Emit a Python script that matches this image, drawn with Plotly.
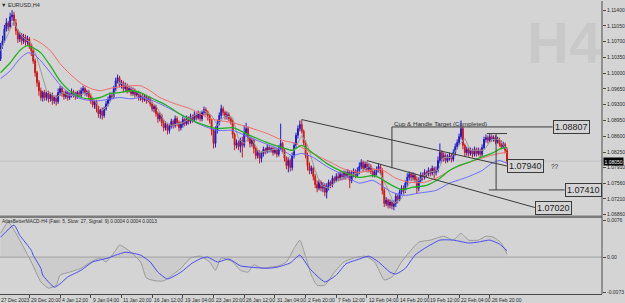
import plotly.graph_objects as go

# ---------------- price data (EURUSD H4) ----------------
first_open = 1.1032
closes = [1.1061, 1.1072, 1.1098, 1.1111, 1.1103, 1.1125, 1.1129, 1.1111, 1.1094, 1.1076,
          1.1085, 1.1072, 1.1080, 1.1069, 1.1076, 1.1061, 1.1050, 1.1027, 1.1001, 1.0979,
          1.0961, 1.0946, 1.0957, 1.0946, 1.0955, 1.0943, 1.0952, 1.0939, 1.0946, 1.0937,
          1.0957, 1.0966, 1.0955, 1.0948, 1.0957, 1.0946, 1.0950, 1.0959, 1.0952, 1.0948,
          1.0957, 1.0950, 1.0961, 1.0966, 1.0955, 1.0959, 1.0948, 1.0939, 1.0930, 1.0937,
          1.0921, 1.0910, 1.0917, 1.0906, 1.0921, 1.0932, 1.0941, 1.0950, 1.0948, 1.0966,
          1.0983, 1.0990, 1.0974, 1.0979, 1.0966, 1.0972, 1.0961, 1.0966, 1.0955, 1.0961,
          1.0952, 1.0957, 1.0946, 1.0950, 1.0941, 1.0948, 1.0939, 1.0943, 1.0932, 1.0921,
          1.0926, 1.0910, 1.0899, 1.0906, 1.0890, 1.0879, 1.0886, 1.0873, 1.0882, 1.0893,
          1.0884, 1.0899, 1.0890, 1.0879, 1.0886, 1.0897, 1.0888, 1.0899, 1.0893, 1.0904,
          1.0897, 1.0908, 1.0901, 1.0910, 1.0899, 1.0913, 1.0919, 1.0913, 1.0906, 1.0895,
          1.0873, 1.0844, 1.0873, 1.0890, 1.0906, 1.0921, 1.0913, 1.0904, 1.0908, 1.0899,
          1.0893, 1.0864, 1.0840, 1.0846, 1.0837, 1.0851, 1.0840, 1.0866, 1.0877, 1.0855,
          1.0844, 1.0851, 1.0833, 1.0817, 1.0824, 1.0811, 1.0822, 1.0831, 1.0826, 1.0835,
          1.0829, 1.0833, 1.0824, 1.0829, 1.0820, 1.0833, 1.0844, 1.0829, 1.0811, 1.0795,
          1.0806, 1.0791, 1.0817, 1.0840, 1.0862, 1.0877, 1.0886, 1.0871, 1.0846, 1.0817,
          1.0795, 1.0784, 1.0789, 1.0771, 1.0753, 1.0745, 1.0758, 1.0745, 1.0751, 1.0736,
          1.0749, 1.0758, 1.0753, 1.0767, 1.0762, 1.0771, 1.0767, 1.0776, 1.0769, 1.0778,
          1.0771, 1.0780, 1.0762, 1.0776, 1.0782, 1.0773, 1.0784, 1.0793, 1.0802, 1.0789,
          1.0798, 1.0787, 1.0793, 1.0782, 1.0773, 1.0780, 1.0787, 1.0793, 1.0782, 1.0740,
          1.0711, 1.0718, 1.0707, 1.0714, 1.0705, 1.0711, 1.0727, 1.0720, 1.0736, 1.0745,
          1.0740, 1.0756, 1.0769, 1.0776, 1.0769, 1.0773, 1.0764, 1.0745, 1.0762, 1.0773,
          1.0769, 1.0780, 1.0776, 1.0784, 1.0778, 1.0789, 1.0780, 1.0784, 1.0806, 1.0824,
          1.0811, 1.0817, 1.0806, 1.0813, 1.0817, 1.0809, 1.0824, 1.0837, 1.0846, 1.0859,
          1.0877, 1.0840, 1.0824, 1.0831, 1.0822, 1.0829, 1.0820, 1.0831, 1.0822, 1.0829,
          1.0820, 1.0835, 1.0853, 1.0857, 1.0851, 1.0859, 1.0853, 1.0857, 1.0848, 1.0853,
          1.0844, 1.0837, 1.0842, 1.0829, 1.0805]
highs = [1.1067, 1.1083, 1.1107, 1.1122, 1.1116, 1.1134, 1.1140, 1.1136, 1.1120, 1.1098,
         1.1092, 1.1089, 1.1087, 1.1085, 1.1083, 1.1080, 1.1067, 1.1054, 1.1032, 1.1005,
         1.0985, 1.0968, 1.0961, 1.0963, 1.0959, 1.0961, 1.0957, 1.0957, 1.0950, 1.0952,
         1.0966, 1.0972, 1.0970, 1.0961, 1.0961, 1.0961, 1.0957, 1.0966, 1.0963, 1.0959,
         1.0961, 1.0963, 1.0968, 1.0972, 1.0970, 1.0963, 1.0963, 1.0955, 1.0943, 1.0941,
         1.0941, 1.0928, 1.0921, 1.0924, 1.0926, 1.0939, 1.0948, 1.0957, 1.0957, 1.0972,
         1.0990, 1.0997, 1.0994, 1.0985, 1.0983, 1.0979, 1.0977, 1.0972, 1.0970, 1.0968,
         1.0966, 1.0961, 1.0961, 1.0955, 1.0955, 1.0952, 1.0952, 1.0948, 1.0948, 1.0937,
         1.0930, 1.0930, 1.0915, 1.0913, 1.0910, 1.0897, 1.0893, 1.0890, 1.0888, 1.0899,
         1.0897, 1.0906, 1.0904, 1.0895, 1.0893, 1.0904, 1.0901, 1.0906, 1.0904, 1.0910,
         1.0908, 1.0915, 1.0913, 1.0917, 1.0915, 1.0917, 1.0926, 1.0924, 1.0917, 1.0910,
         1.0899, 1.0877, 1.0882, 1.0897, 1.0913, 1.0930, 1.0926, 1.0917, 1.0915, 1.0913,
         1.0904, 1.0897, 1.0868, 1.0853, 1.0851, 1.0857, 1.0859, 1.0884, 1.0890, 1.0882,
         1.0859, 1.0857, 1.0855, 1.0837, 1.0829, 1.0829, 1.0826, 1.0837, 1.0835, 1.0842,
         1.0840, 1.0837, 1.0837, 1.0835, 1.0833, 1.0840, 1.0888, 1.0848, 1.0833, 1.0815,
         1.0813, 1.0811, 1.0824, 1.0846, 1.0868, 1.0884, 1.0895, 1.0897, 1.0875, 1.0851,
         1.0824, 1.0802, 1.0795, 1.0793, 1.0776, 1.0762, 1.0764, 1.0762, 1.0758, 1.0756,
         1.0756, 1.0764, 1.0762, 1.0773, 1.0771, 1.0778, 1.0780, 1.0782, 1.0782, 1.0784,
         1.0784, 1.0787, 1.0784, 1.0784, 1.0789, 1.0787, 1.0791, 1.0802, 1.0809, 1.0806,
         1.0804, 1.0804, 1.0800, 1.0798, 1.0789, 1.0787, 1.0793, 1.0800, 1.0798, 1.0789,
         1.0745, 1.0725, 1.0722, 1.0720, 1.0718, 1.0718, 1.0734, 1.0731, 1.0742, 1.0751,
         1.0751, 1.0762, 1.0778, 1.0782, 1.0780, 1.0780, 1.0778, 1.0771, 1.0769, 1.0780,
         1.0780, 1.0787, 1.0784, 1.0791, 1.0789, 1.0795, 1.0793, 1.0793, 1.0815, 1.0844,
         1.0829, 1.0824, 1.0822, 1.0820, 1.0824, 1.0822, 1.0831, 1.0844, 1.0853, 1.0866,
         1.0895, 1.0882, 1.0844, 1.0837, 1.0835, 1.0835, 1.0833, 1.0837, 1.0835, 1.0835,
         1.0833, 1.0842, 1.0859, 1.0864, 1.0862, 1.0866, 1.0864, 1.0862, 1.0862, 1.0859,
         1.0857, 1.0851, 1.0848, 1.0846, 1.0835]
lows = [1.1027, 1.1054, 1.1067, 1.1092, 1.1094, 1.1098, 1.1116, 1.1105, 1.1085, 1.1067,
        1.1069, 1.1063, 1.1065, 1.1061, 1.1063, 1.1054, 1.1038, 1.1021, 1.0992, 1.0970,
        1.0950, 1.0939, 1.0937, 1.0939, 1.0939, 1.0935, 1.0937, 1.0930, 1.0932, 1.0928,
        1.0932, 1.0950, 1.0948, 1.0941, 1.0943, 1.0939, 1.0941, 1.0946, 1.0946, 1.0941,
        1.0943, 1.0946, 1.0946, 1.0955, 1.0950, 1.0948, 1.0941, 1.0932, 1.0924, 1.0921,
        1.0913, 1.0901, 1.0899, 1.0897, 1.0901, 1.0917, 1.0926, 1.0937, 1.0941, 1.0943,
        1.0961, 1.0977, 1.0968, 1.0966, 1.0957, 1.0961, 1.0955, 1.0957, 1.0950, 1.0950,
        1.0946, 1.0948, 1.0939, 1.0939, 1.0935, 1.0937, 1.0932, 1.0935, 1.0926, 1.0915,
        1.0913, 1.0904, 1.0890, 1.0893, 1.0882, 1.0871, 1.0873, 1.0864, 1.0866, 1.0877,
        1.0877, 1.0879, 1.0882, 1.0871, 1.0873, 1.0879, 1.0882, 1.0884, 1.0886, 1.0888,
        1.0890, 1.0893, 1.0895, 1.0897, 1.0893, 1.0893, 1.0906, 1.0906, 1.0895, 1.0888,
        1.0862, 1.0833, 1.0835, 1.0866, 1.0884, 1.0899, 1.0906, 1.0897, 1.0897, 1.0893,
        1.0886, 1.0855, 1.0829, 1.0833, 1.0829, 1.0824, 1.0813, 1.0835, 1.0859, 1.0848,
        1.0835, 1.0837, 1.0822, 1.0809, 1.0811, 1.0800, 1.0802, 1.0815, 1.0820, 1.0822,
        1.0824, 1.0824, 1.0817, 1.0820, 1.0813, 1.0815, 1.0829, 1.0822, 1.0804, 1.0787,
        1.0780, 1.0782, 1.0784, 1.0811, 1.0833, 1.0855, 1.0871, 1.0866, 1.0840, 1.0811,
        1.0784, 1.0776, 1.0776, 1.0762, 1.0745, 1.0736, 1.0740, 1.0738, 1.0736, 1.0727,
        1.0722, 1.0740, 1.0745, 1.0747, 1.0756, 1.0758, 1.0760, 1.0762, 1.0762, 1.0764,
        1.0764, 1.0767, 1.0745, 1.0756, 1.0769, 1.0767, 1.0769, 1.0776, 1.0787, 1.0782,
        1.0784, 1.0780, 1.0780, 1.0776, 1.0769, 1.0769, 1.0773, 1.0780, 1.0776, 1.0731,
        1.0703, 1.0705, 1.0700, 1.0700, 1.0698, 1.0696, 1.0703, 1.0711, 1.0716, 1.0729,
        1.0731, 1.0734, 1.0749, 1.0762, 1.0760, 1.0762, 1.0758, 1.0734, 1.0738, 1.0756,
        1.0762, 1.0764, 1.0769, 1.0771, 1.0771, 1.0773, 1.0767, 1.0773, 1.0780, 1.0800,
        1.0802, 1.0804, 1.0800, 1.0802, 1.0806, 1.0802, 1.0804, 1.0817, 1.0831, 1.0840,
        1.0853, 1.0831, 1.0815, 1.0817, 1.0815, 1.0817, 1.0813, 1.0815, 1.0815, 1.0817,
        1.0813, 1.0815, 1.0831, 1.0846, 1.0844, 1.0846, 1.0848, 1.0848, 1.0842, 1.0844,
        1.0837, 1.0831, 1.0833, 1.0822, 1.0798]
bars = list(range(len(closes)))
opens = [first_open] + closes[:-1]

# ---------------- moving averages (read at sparse bars) ----------------
green_bars = [0, 5, 10, 14, 17, 21, 26, 31, 36, 42, 47, 52, 57, 62, 68, 73, 78, 86, 94, 99,
              104, 113, 121, 130, 139, 147, 152, 157, 163, 170, 177, 187, 194, 197, 204, 209,
              215, 222, 229, 234, 239, 244, 249, 256, 261, 264]
green_vals = [1.1001, 1.1023, 1.1050, 1.1061, 1.1056, 1.1045, 1.1016, 1.0983, 1.0961, 1.0946,
              1.0943, 1.0946, 1.0955, 1.0957, 1.0961, 1.0957, 1.0946, 1.0930, 1.0908, 1.0897,
              1.0888, 1.0877, 1.0879, 1.0862, 1.0846, 1.0835, 1.0829, 1.0840, 1.0822, 1.0800,
              1.0784, 1.0769, 1.0773, 1.0769, 1.0751, 1.0742, 1.0747, 1.0751, 1.0767, 1.0784,
              1.0795, 1.0802, 1.0811, 1.0822, 1.0833, 1.0835]
blue_bars = [0, 5, 10, 14, 17, 21, 26, 31, 36, 42, 47, 52, 57, 62, 68, 73, 78, 86, 94, 104,
             113, 121, 130, 139, 147, 152, 157, 163, 170, 177, 187, 194, 204, 211, 218, 227,
             234, 243, 251, 256, 260, 264]
blue_vals = [1.0988, 1.1005, 1.1032, 1.1045, 1.1043, 1.1027, 1.1001, 1.0974, 1.0955, 1.0943,
             1.0939, 1.0939, 1.0943, 1.0946, 1.0943, 1.0946, 1.0941, 1.0926, 1.0908, 1.0886,
             1.0873, 1.0873, 1.0857, 1.0842, 1.0829, 1.0817, 1.0822, 1.0813, 1.0793, 1.0778,
             1.0756, 1.0762, 1.0736, 1.0729, 1.0734, 1.0740, 1.0756, 1.0769, 1.0784, 1.0800,
             1.0806, 1.0800]
red_bars = [17, 21, 26, 31, 36, 42, 47, 52, 57, 62, 68, 73, 78, 83, 91, 99, 104, 109, 121, 130,
            139, 147, 154, 157, 165, 173, 178, 187, 198, 206, 213, 221, 229, 236, 244, 252, 260, 264]
red_vals = [1.1076, 1.1067, 1.1050, 1.1021, 1.0999, 1.0977, 1.0966, 1.0961, 1.0966, 1.0970,
            1.0972, 1.0972, 1.0961, 1.0946, 1.0932, 1.0921, 1.0910, 1.0899, 1.0890, 1.0879,
            1.0866, 1.0851, 1.0844, 1.0835, 1.0817, 1.0800, 1.0789, 1.0780, 1.0787, 1.0767,
            1.0758, 1.0758, 1.0771, 1.0789, 1.0802, 1.0813, 1.0822, 1.0824]
gray_bars = [0, 4, 7, 9, 12, 16, 19, 22, 24, 29, 32, 36, 42, 46, 49, 53, 56, 59, 62, 65,
             70, 75, 81, 86, 89, 95, 101, 106, 110, 113, 117, 121, 124, 127, 130, 135, 140, 145, 150, 153,
             157, 160, 164, 167, 171, 177, 182, 187, 192, 197, 201, 205, 209, 213, 218, 223, 228, 231, 235, 239,
             242, 245, 252, 256, 260, 263, 264]
gray_vals = [1.1050, 1.1087, 1.1116, 1.1094, 1.1078, 1.1067, 1.1034, 1.0990, 1.0961, 1.0946,
             1.0957, 1.0950, 1.0952, 1.0959, 1.0939, 1.0917, 1.0928, 1.0950, 1.0979, 1.0974,
             1.0961, 1.0946, 1.0928, 1.0890, 1.0884, 1.0890, 1.0906, 1.0917, 1.0906, 1.0884,
             1.0906, 1.0901, 1.0855, 1.0844, 1.0862, 1.0824, 1.0829, 1.0833, 1.0811, 1.0829,
             1.0862, 1.0840, 1.0784, 1.0751, 1.0745, 1.0767, 1.0773, 1.0780, 1.0793, 1.0784,
             1.0751, 1.0711, 1.0722, 1.0756, 1.0762, 1.0780, 1.0784, 1.0813, 1.0813, 1.0840,
             1.0855, 1.0829, 1.0829, 1.0853, 1.0853, 1.0837, 1.0829]

# ---------------- MACD (read at sparse bars) ----------------
macd_sig_bars = [0, 7, 10, 16, 17, 21, 22, 28, 31, 35, 42, 48, 56, 60, 65, 69, 73, 78, 82, 87,
                 94, 100, 105, 108, 113, 119, 125, 131, 139, 144, 151, 156, 161, 169, 175, 180, 187, 192, 197, 203,
                 206, 211, 216, 221, 229, 236, 244, 249, 255, 260, 264]
macd_sig_vals = [0.0041, 0.0066, 0.0045, 0.0014, 0.0004, -0.0023, -0.0037, -0.0062, -0.0055, -0.0041,
                 -0.0027, -0.0010, -0.0002, 0.0004, 0.0010, 0.0008, 0.0004, -0.0010, -0.0031, -0.0045,
                 -0.0031, -0.0012, -0.0002, 0.0000, -0.0010, -0.0004, -0.0018, -0.0021, -0.0023, -0.0021,
                 -0.0012, 0.0004, -0.0023, -0.0051, -0.0037, -0.0014, -0.0004, 0.0002, -0.0010, -0.0031,
                 -0.0035, -0.0023, 0.0004, 0.0018, 0.0035, 0.0035, 0.0029, 0.0031, 0.0035, 0.0027, 0.0013]
macd_main_bars = [0, 4, 10, 16, 21, 25, 29, 31, 36, 42, 47, 52, 55, 60, 62, 68, 73, 76, 81, 85,
                  88, 94, 99, 104, 109, 112, 115, 121, 125, 129, 132, 136, 140, 145, 149, 153, 156, 158, 162, 165,
                  169, 174, 179, 184, 190, 195, 200, 204, 209, 213, 218, 224, 231, 236, 240, 244, 249, 253, 257, 261, 264]
macd_main_vals = [0.0049, 0.0072, 0.0035, -0.0010, -0.0051, -0.0064, -0.0058, -0.0037, -0.0031, -0.0023,
                  -0.0010, -0.0002, -0.0010, 0.0014, 0.0025, 0.0010, -0.0010, -0.0043, -0.0049, -0.0049,
                  -0.0041, -0.0023, -0.0002, 0.0002, -0.0010, -0.0027, -0.0002, -0.0010, -0.0027, -0.0031,
                  -0.0016, -0.0023, -0.0021, -0.0018, -0.0010, 0.0018, 0.0035, 0.0014, -0.0037, -0.0058,
                  -0.0058, -0.0031, -0.0010, -0.0002, 0.0002, -0.0010, -0.0047, -0.0041, -0.0010, 0.0010,
                  0.0031, 0.0035, 0.0043, 0.0035, 0.0049, 0.0035, 0.0035, 0.0043, 0.0041, 0.0029, 0.0006]

# ---------------- axes labels ----------------
price_ticks = [1.1140, 1.1105, 1.1070, 1.1035, 1.1000, 1.0965, 1.0930, 1.0895, 1.0860, 1.0825,
               1.0791, 1.0756, 1.0721, 1.0686]
price_tick_text = ["1.11400", "1.11050", "1.10700", "1.10350", "1.10000", "1.09650", "1.09300",
                   "1.08950", "1.08600", "1.08250", "1.07910", "1.07560", "1.07210", "1.06860"]
macd_ticks = [0.0076, 0.0, -0.0073]
macd_tick_text = ["0.0076", "0.00", "-0.0073"]
first_label = "27 Dec 2023"
xtick_bars = [15, 31, 47, 63, 79, 95, 111, 127, 143, 159, 175, 191, 207, 223, 239, 255]
xtick_text = ["29 Dec 20:00", "4 Jan 12:00", "9 Jan 04:00", "11 Jan 20:00", "16 Jan 12:00",
              "19 Jan 04:00", "23 Jan 20:00", "26 Jan 12:00", "31 Jan 04:00", "2 Feb 20:00",
              "7 Feb 12:00", "12 Feb 04:00", "14 Feb 20:00", "19 Feb 12:00", "22 Feb 04:00",
              "26 Feb 20:00"]
current_price = 1.0805
current_price_text = "1.08050"

# ---------------- drawing objects (bar, price) ----------------
cup_target = 1.08807
cup_start_bar = 204
cup_end_bar = 287.8
cup_low = 1.0789
line_a = [(157, 1.0897), (264, 1.0794)]
line_b = [(191, 1.0806), (278.5, 1.0702)]
cap_top = [(253.5, 1.0866), (264, 1.0866)]
measure_bar = 258.3
measure_top = 1.0866
measure_low = 1.0741
measure_line_end = 294
box_labels = ["1.08807", "1.07940", "1.07410", "1.07020"]
box_bars = [287.8, 264.2, 294.2, 278.7]
box_prices = [1.0880, 1.0795, 1.0741, 1.0702]

BG = "#d4d4d4"
AX = "#4a4a4a"
NARROW = "Liberation Sans Narrow, Arial Narrow, Liberation Sans, Arial"

fig = go.Figure()
fig.add_trace(go.Candlestick(
    x=bars, open=opens, high=highs, low=lows, close=closes,
    increasing=dict(line=dict(color="#1c1cd0", width=1), fillcolor="#1c1cd0"),
    decreasing=dict(line=dict(color="#d01818", width=1), fillcolor="#d01818"),
    whiskerwidth=0, xaxis="x", yaxis="y", showlegend=False, hoverinfo="skip"))
fig.add_trace(go.Scatter(x=gray_bars, y=gray_vals, mode="lines",
                         line=dict(color="#9a9a9a", width=1), xaxis="x", yaxis="y",
                         showlegend=False, hoverinfo="skip"))
fig.add_trace(go.Scatter(x=red_bars, y=red_vals, mode="lines",
                         line=dict(color="#f06a6a", width=1, shape="spline", smoothing=0.6),
                         xaxis="x", yaxis="y", showlegend=False, hoverinfo="skip"))
fig.add_trace(go.Scatter(x=blue_bars, y=blue_vals, mode="lines",
                         line=dict(color="#6a6aff", width=1, shape="spline", smoothing=0.6),
                         xaxis="x", yaxis="y", showlegend=False, hoverinfo="skip"))
fig.add_trace(go.Scatter(x=green_bars, y=green_vals, mode="lines",
                         line=dict(color="#22b022", width=1.3, shape="spline", smoothing=0.6),
                         xaxis="x", yaxis="y", showlegend=False, hoverinfo="skip"))

# MACD panel
fig.add_trace(go.Scatter(x=macd_main_bars, y=macd_main_vals, mode="lines",
                         line=dict(width=0, color="rgba(0,0,0,0)"), fill="tozeroy",
                         fillcolor="rgba(0,0,0,0)",
                         fillpattern=dict(shape="|", size=2, solidity=0.5, fgcolor="#b2b2b2",
                                          bgcolor="rgba(0,0,0,0)"),
                         xaxis="x2", yaxis="y2", showlegend=False, hoverinfo="skip"))
fig.add_trace(go.Scatter(x=macd_main_bars, y=macd_main_vals, mode="lines",
                         line=dict(color="#9a9a9a", width=1, shape="spline", smoothing=0.5),
                         xaxis="x2", yaxis="y2", showlegend=False, hoverinfo="skip"))
fig.add_trace(go.Scatter(x=macd_sig_bars, y=macd_sig_vals, mode="lines",
                         line=dict(color="#4848f0", width=1, shape="spline", smoothing=0.5),
                         xaxis="x2", yaxis="y2", showlegend=False, hoverinfo="skip"))

LINE = dict(color="#3c3c3c", width=1)
shapes = [
    dict(type="line", xref="paper", yref="y", x0=0, x1=1, y0=current_price, y1=current_price,
         line=dict(color="#c2c2c2", width=1), layer="below"),
    dict(type="line", xref="paper", yref="y2", x0=0, x1=1, y0=0, y1=0,
         line=dict(color="#9c9c9c", width=1), layer="below"),
    dict(type="line", xref="paper", yref="paper", x0=0, x1=1, y0=0.2636, y1=0.2636,
         line=dict(color="#7c7c7c", width=2.5)),
    dict(type="line", xref="paper", yref="paper", x0=1, x1=1, y0=0, y1=1,
         line=dict(color=AX, width=1)),
    dict(type="line", xref="x", yref="y", x0=line_a[0][0], y0=line_a[0][1],
         x1=line_a[1][0], y1=line_a[1][1], line=LINE),
    dict(type="line", xref="x", yref="y", x0=line_b[0][0], y0=line_b[0][1],
         x1=line_b[1][0], y1=line_b[1][1], line=LINE),
    dict(type="line", xref="x", yref="y", x0=cup_start_bar, y0=cup_target,
         x1=cup_end_bar, y1=cup_target, line=LINE),
    dict(type="line", xref="x", yref="y", x0=cup_start_bar, y0=cup_target,
         x1=cup_start_bar, y1=cup_low, line=LINE),
    dict(type="line", xref="x", yref="y", x0=cap_top[0][0], y0=cap_top[0][1],
         x1=cap_top[1][0], y1=cap_top[1][1], line=LINE),
    dict(type="line", xref="x", yref="y", x0=measure_bar, y0=measure_top,
         x1=measure_bar, y1=measure_low, line=LINE),
    dict(type="line", xref="x", yref="y", x0=254.5, y0=measure_low,
         x1=measure_line_end, y1=measure_low, line=LINE),
]

annotations = [
    dict(x=0.937, y=0.86, xref="paper", yref="paper", xanchor="center", yanchor="middle",
         text="<b>H4</b>", showarrow=False, borderpad=0,
         font=dict(family="Liberation Sans, Arial", size=58, color="#c9c9c9")),
    dict(x=0, y=1, xref="paper", yref="paper", xanchor="left", yanchor="top", showarrow=False,
         text="\u25bc EURUSD,H4", borderpad=0, yshift=0,
         font=dict(family=NARROW, size=5.5, color="#2a2a2a")),
    dict(x=0.002, y=0.258, xref="paper", yref="paper", xanchor="left", yanchor="top", showarrow=False,
         text="AtlasBetterMACD-H4 (Fast: 5, Slow: 27, Signal: 9) 0.0004 0.0004 0.0013", borderpad=0,
         font=dict(family=NARROW, size=4.8, color="#2a2a2a")),
    dict(x=cup_start_bar, y=1.0889, xref="x", yref="y", xanchor="left", yanchor="middle",
         showarrow=False, text="Cup & Handle Target (Completed)", borderpad=0, xshift=1,
         font=dict(family="Liberation Sans, Arial", size=6.2, color="#2a2a2a")),
    dict(x=286.5, y=1.0794, xref="x", yref="y", xanchor="left", yanchor="middle",
         showarrow=False, text="??", borderpad=0,
         font=dict(family="Liberation Sans, Arial", size=6.5, color="#2a2a2a")),
    dict(x=1, y=current_price, xref="paper", yref="y", xanchor="left", yanchor="middle",
         showarrow=False, text=current_price_text, bgcolor="#000000", borderpad=0.5, xshift=1,
         font=dict(family=NARROW, size=5, color="#ffffff")),
    dict(x=-0.3, y=0, xref="x2", yref="paper", xanchor="left", yanchor="top", showarrow=False,
         text=first_label, borderpad=0, yshift=-2,
         font=dict(family=NARROW, size=5, color="#2a2a2a")),
]
for b, t in zip(xtick_bars, xtick_text):
    annotations.append(dict(x=b, y=0, xref="x2", yref="paper", xanchor="left", yanchor="top",
                            showarrow=False, text=t, borderpad=0, yshift=-2, xshift=1,
                            font=dict(family=NARROW, size=5, color="#2a2a2a")))
for t, b, p in zip(box_labels, box_bars, box_prices):
    annotations.append(dict(x=b, y=p, xref="x", yref="y", xanchor="left", yanchor="middle",
                            showarrow=False, text=t, bgcolor=BG, bordercolor="#3a3a3a",
                            borderwidth=1, borderpad=1,
                            font=dict(family="Liberation Sans, Arial", size=9, color="#1e1e1e")))

fig.update_layout(
    width=625, height=303,
    margin=dict(l=0, r=21, t=0, b=9),
    paper_bgcolor=BG, plot_bgcolor=BG,
    showlegend=False,
    xaxis=dict(domain=[0, 1], range=[-0.3, 313.5], anchor="y", showticklabels=False,
               showgrid=False, zeroline=False, showline=False, rangeslider=dict(visible=False),
               fixedrange=True),
    xaxis2=dict(domain=[0, 1], matches="x", anchor="y2", showticklabels=False, showgrid=False,
                zeroline=False, showline=True, linecolor=AX, linewidth=1,
                ticks="outside", ticklen=3, tickcolor=AX, tickvals=xtick_bars),
    yaxis=dict(domain=[0.2653, 1], range=[1.06826, 1.1160], side="right", anchor="x",
               showgrid=False, zeroline=False, showline=False, ticks="outside", ticklen=3,
               tickcolor=AX, tickvals=price_ticks, ticktext=price_tick_text,
               tickfont=dict(family=NARROW, size=5, color="#2a2a2a")),
    yaxis2=dict(domain=[0, 0.2585], range=[-0.0076, 0.0080], side="right", anchor="x2",
                showgrid=False, zeroline=False, showline=False, ticks="outside", ticklen=3,
                tickcolor=AX, tickvals=macd_ticks, ticktext=macd_tick_text,
                tickfont=dict(family=NARROW, size=5, color="#2a2a2a")),
    shapes=shapes,
    annotations=annotations,
)

fig.write_html("out.html")
